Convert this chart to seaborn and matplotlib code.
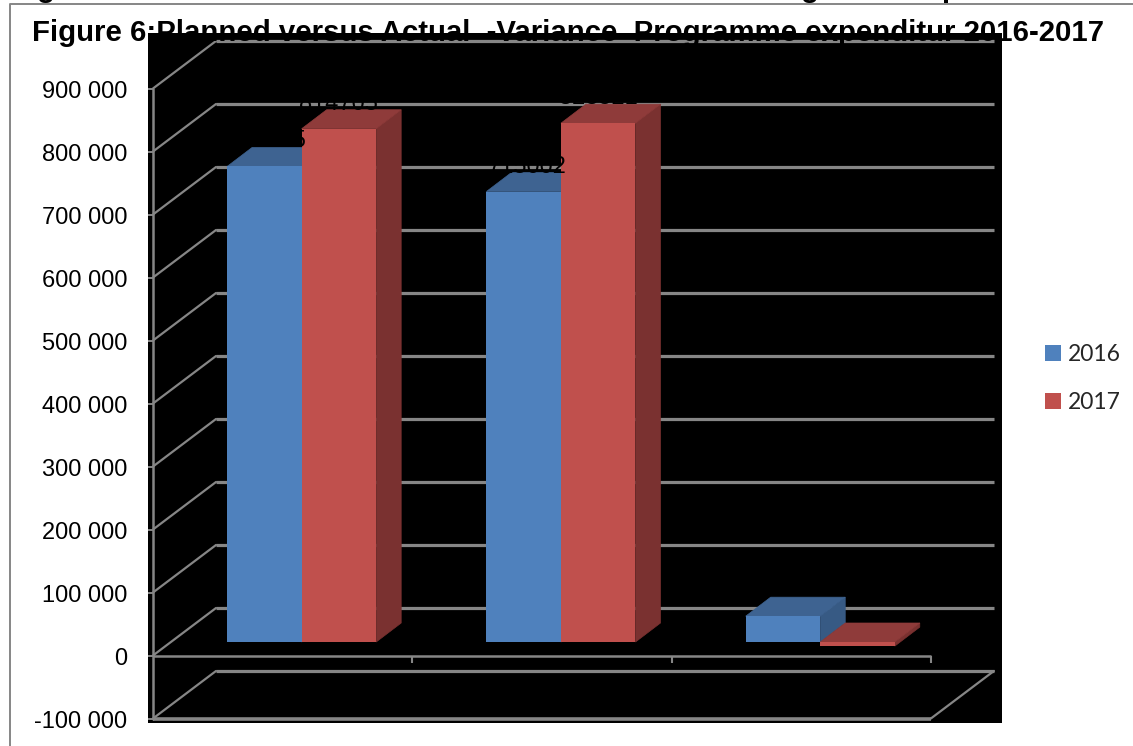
import pandas as pd
import matplotlib
matplotlib.use('Agg')
import matplotlib.pyplot as plt
import seaborn as sns
from matplotlib.lines import Line2D
from matplotlib.patches import Polygon
from matplotlib.transforms import ScaledTranslation

# Chart values
categories = ['Planned', 'Actual', 'Variance']
years = ['2016', '2017']
values_2016 = [754815, 715002, 41000]
values_2017 = [814705, 823521, -6500]
label_texts_2016 = ['754815', '715002', None]
label_texts_2017 = ['814705', '823521', None]
y_ticks = [-100000, 0, 100000, 200000, 300000, 400000, 500000, 600000, 700000, 800000, 900000]
title_text = 'Figure 6:Planned versus Actual  -Variance  Programme expenditur 2016-2017'

GREY = '#868686'
FRONT = {'2016': '#4F81BD', '2017': '#C0504D'}
TOP = {'2016': '#3E6391', '2017': '#8F3B3A'}
SIDE = {'2016': '#375A84', '2017': '#7A3130'}

W, H = 1133, 746
PX_PER_CAT = 259.3
PX_PER_VALUE = 63 / 100000

def px_x(px):
    return px / PX_PER_CAT

def px_y(px):
    return px / PX_PER_VALUE

# 3D looking pieces, all as offsets in data units
WALL_DX, WALL_DY = px_x(63), px_y(47.5)
BAR_DX, BAR_DY = px_x(19), px_y(13.5)
DEPTH_DX, DEPTH_DY = px_x(25), px_y(19)


def draw_walls(ax):
    xmin, xmax = -0.5, 2.5
    for v in y_ticks:
        ax.plot([xmin + WALL_DX, xmax + WALL_DX], [v + WALL_DY, v + WALL_DY], color=GREY, lw=2.3, zorder=1,
                solid_capstyle='butt')
        ax.plot([xmin, xmin + WALL_DX], [v, v + WALL_DY], color=GREY, lw=1.6, zorder=1)
    # floor at the bottom value
    bottom = y_ticks[0]
    ax.plot([xmin, xmax], [bottom, bottom], color=GREY, lw=2.6, zorder=6, solid_capstyle='butt')
    ax.plot([xmax, xmax + WALL_DX], [bottom, bottom + WALL_DY], color=GREY, lw=1.6, zorder=1)
    # front axes
    ax.plot([xmin, xmax], [0, 0], color=GREY, lw=1.8, zorder=6, solid_capstyle='butt')
    ax.plot([xmin, xmin], [y_ticks[0], y_ticks[-1]], color=GREY, lw=1.8, zorder=6)
    for i in range(len(categories)):
        ax.plot([i + 0.5, i + 0.5], [0, -px_y(7.5)], color=GREY, lw=1.5, zorder=6, solid_capstyle='butt')


def draw_depth(ax):
    # seaborn draws the front faces, move them back and add top and side
    for patch, hue in zip(ax.patches, [y for y in years for _ in categories]):
        patch.set_x(patch.get_x() + BAR_DX)
        patch.set_y(patch.get_y() + BAR_DY)
        x0 = patch.get_x()
        x1 = x0 + patch.get_width()
        y0 = patch.get_y()
        y1 = y0 + patch.get_height()
        low, high = min(y0, y1), max(y0, y1)
        top = [(x0, high), (x1, high), (x1 + DEPTH_DX, high + DEPTH_DY), (x0 + DEPTH_DX, high + DEPTH_DY)]
        side = [(x1, low), (x1, high), (x1 + DEPTH_DX, high + DEPTH_DY), (x1 + DEPTH_DX, low + DEPTH_DY)]
        z = 3 if hue == '2016' else 4
        # thin edge of the same colour hides the seam between faces
        ax.add_patch(Polygon(side, facecolor=SIDE[hue], edgecolor=SIDE[hue], lw=0.5, zorder=z))
        ax.add_patch(Polygon(top, facecolor=TOP[hue], edgecolor=TOP[hue], lw=0.5, zorder=z))
        patch.set_zorder(z + 0.5)


def draw_labels(ax):
    pairs = [label_texts_2016, label_texts_2017]
    series = [values_2016, values_2017]
    offsets = [-0.1437, 0.1437]
    nudges = [px_x(3), 0]
    for texts, vals, off, nudge in zip(pairs, series, offsets, nudges):
        for i, (txt, v) in enumerate(zip(texts, vals)):
            if txt is None:
                continue
            ax.text(i + off + BAR_DX + nudge, v + BAR_DY + DEPTH_DY, txt, ha='center', va='baseline',
                    fontsize=17, color='black', zorder=8)


def main():
    sns.set_theme(style='white')
    plt.rcParams['font.family'] = ['Liberation Sans', 'DejaVu Sans']

    data = pd.DataFrame({
        'category': categories * 2,
        'year': [y for y in years for _ in categories],
        'value': values_2016 + values_2017,
    })

    fig = plt.figure(figsize=(W / 100, H / 100), dpi=100, facecolor='white')
    ax = fig.add_axes([148 / W, 1 - 723 / H, (1002 - 148) / W, (723 - 33) / H])
    ax.set_facecolor('black')

    sns.barplot(data=data, x='category', y='value', hue='year', palette=FRONT, width=0.575,
                gap=0, saturation=1, errorbar=None, linewidth=0, edgecolor='none', ax=ax, legend=True)
    handles, labels = ax.get_legend_handles_labels()
    ax.get_legend().remove()

    ax.set_xlim(-0.5 - px_x(5), -0.5 + px_x(1002 - 153))
    ax.set_ylim(-px_y(723 - 655.5), px_y(655.5 - 33))

    draw_depth(ax)
    draw_walls(ax)
    draw_labels(ax)

    ax.set_xticks([])
    ax.set_xlabel('')
    ax.set_ylabel('')
    ax.set_yticks(y_ticks)
    ax.set_yticklabels([f'{v:,}'.replace(',', ' ') for v in y_ticks], fontsize=17, color='black')
    ax.tick_params(axis='y', direction='in', length=4, width=1.4, color=GREY, pad=15, left=True)
    # tick labels sit a little lower than the ticks
    down = ScaledTranslation(0, -0.5 / 72, fig.dpi_scale_trans)
    for lab in ax.get_yticklabels():
        lab.set_transform(lab.get_transform() + down)
    for spine in ax.spines.values():
        spine.set_visible(False)

    fig.legend(handles, labels, loc='center left', bbox_to_anchor=(1045 / W, 1 - 378.5 / H),
               frameon=False, handlelength=0.68, handleheight=0.68, handletextpad=0.3,
               labelspacing=1.17, borderpad=0, borderaxespad=0, prop={'family': 'Lato', 'size': 16.5})

    # title sits on top of the black plot area
    fig.text(32 / W, 1 - 41 / H, title_text, fontsize=21.15, fontweight='bold', color='black',
             ha='left', va='baseline', zorder=5)

    # page frame and the descenders of the line above it
    fig.add_artist(Line2D([10 / W, 10 / W, 1], [0, 1 - 3.5 / H, 1 - 3.5 / H], color=GREY, lw=1.4))
    for txt, x in [('g', 45.5), ('g', 810), ('p', 950)]:
        fig.text(x / W, 1 + 3 / H, txt, fontsize=21.15, fontweight='bold', color='black',
                 ha='center', va='baseline')

    fig.savefig('out.png', dpi=100)


if __name__ == "__main__":
    main()
